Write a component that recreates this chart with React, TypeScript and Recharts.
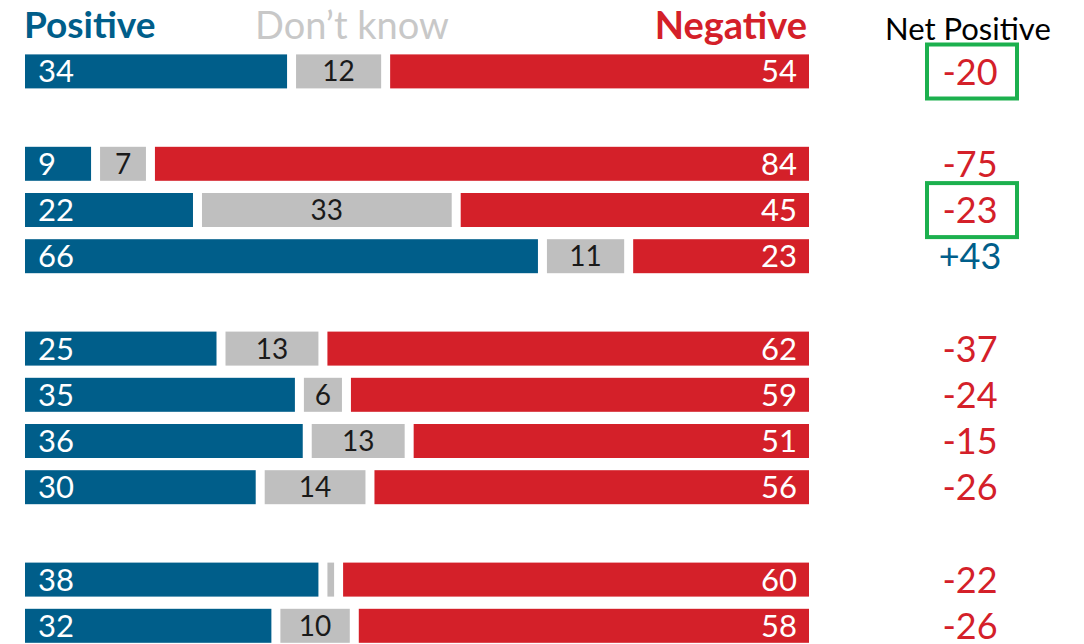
import { BarChart, Bar, XAxis, YAxis, LabelList } from 'recharts';

const rowIds = ['r0', 'r1', 'r2', 'r3', 'r4', 'r5', 'r6', 'r7', 'r8', 'r9', 'r10', 'r11', 'r12'];
const positive = [34, null, 9, 22, 66, null, 25, 35, 36, 30, null, 38, 32];
const dontKnow = [12, null, 7, 33, 11, null, 13, 6, 13, 14, null, 2, 10];
const negative = [54, null, 84, 45, 23, null, 62, 59, 51, 56, null, 60, 58];
const highlighted = [true, false, false, true, false, false, false, false, false, false, false, false, false];

const BLUE = '#005e8a';
const GRAY = '#bfbfbf';
const RED = '#d42029';
const GREEN = '#1cb04e';
const FONT = 'Lato, "Open Sans", sans-serif';
const GAP = 4.5;

const data = rowIds.map((id, i) => ({
  id,
  positive: positive[i],
  dontKnow: dontKnow[i],
  negative: negative[i],
  net: positive[i] == null ? null : (positive[i] as number) - (negative[i] as number),
  highlight: highlighted[i],
}));

// segments are inset so a white gap shows between them
const makeShape = (fill: string, left: number, right: number) => (props: any) => {
  const { x, y, width, height } = props;
  if (!width || width <= 0) return null;
  const w = Math.max(width - left - right, 0);
  return <rect x={x + left} y={y} width={w} height={height} fill={fill} />;
};

const NetTick = (props: any) => {
  const { y, index } = props;
  const row = data[index];
  if (!row || row.net == null) return null;
  const cx = 972;
  const v = row.net;
  const label = v > 0 ? `+${v}` : `${v}`;
  return (
    <g>
      {row.highlight && (
        <rect x={cx - 45} y={y - 27} width={90} height={54} fill="none" stroke={GREEN} strokeWidth={4} />
      )}
      <text x={cx - 2} y={y + 13} textAnchor="middle" fill={v > 0 ? BLUE : RED} fontSize={36} fontFamily={FONT}>
        {label}
      </text>
    </g>
  );
};

const headerStyle = (color: string, bold: boolean): React.CSSProperties => ({
  position: 'absolute',
  top: 1,
  color,
  fontFamily: FONT,
  fontWeight: bold ? 700 : 400,
  fontSize: 38,
  lineHeight: '46px',
  whiteSpace: 'nowrap',
});

export default function App() {
  return (
    <div style={{ position: 'absolute', left: 0, top: 0, width: 1084, height: 644, overflow: 'hidden', background: '#fff' }}>
      <div style={{ ...headerStyle(BLUE, true), left: 24, fontSize: 37 }}>Positive</div>
      <div style={{ ...headerStyle('#c8c8c8', false), left: 255 }}>Don’t know</div>
      <div style={{ ...headerStyle(RED, true), right: 1084 - 807 }}>Negative</div>
      <div style={{ ...headerStyle('#000', false), left: 885, top: 7, fontSize: 31, lineHeight: '42px' }}>Net Positive</div>
      <div style={{ position: 'absolute', left: 0, top: 0 }}>
        <BarChart
          width={1084}
          height={660}
          data={data}
          layout="vertical"
          margin={{ top: 48.4, right: 0, bottom: 11, left: 25 }}
          barCategoryGap={12}
        >
          <XAxis type="number" domain={[0, 100]} hide />
          <YAxis type="category" dataKey="id" hide width={0} />
          <YAxis
            yAxisId="net"
            orientation="right"
            type="category"
            dataKey="id"
            width={275}
            axisLine={false}
            tickLine={false}
            tick={<NetTick />}
            interval={0}
          />
          <Bar dataKey="positive" stackId="a" barSize={34} shape={makeShape(BLUE, 0, GAP)} isAnimationActive={false}>
            <LabelList
              dataKey="positive"
              content={(p: any) =>
                p.value == null ? null : (
                  <text x={p.x + 13} y={p.y + p.height / 2 + 11} fill="#fff" fontSize={31} fontFamily={FONT}>
                    {p.value}
                  </text>
                )
              }
            />
          </Bar>
          <Bar dataKey="dontKnow" stackId="a" barSize={34} shape={makeShape(GRAY, GAP, GAP)} isAnimationActive={false}>
            <LabelList
              dataKey="dontKnow"
              content={(p: any) =>
                p.value == null || p.value < 5 ? null : (
                  <text x={p.x + p.width / 2} y={p.y + p.height / 2 + 10} textAnchor="middle" fill="#1a1a1a" fontSize={28} fontFamily={FONT}>
                    {p.value}
                  </text>
                )
              }
            />
          </Bar>
          <Bar dataKey="negative" stackId="a" barSize={34} shape={makeShape(RED, GAP, 0)} isAnimationActive={false}>
            <LabelList
              dataKey="negative"
              content={(p: any) =>
                p.value == null ? null : (
                  <text x={p.x + p.width - 12} y={p.y + p.height / 2 + 11} textAnchor="end" fill="#fff" fontSize={31} fontFamily={FONT}>
                    {p.value}
                  </text>
                )
              }
            />
          </Bar>
        </BarChart>
      </div>
    </div>
  );
}
